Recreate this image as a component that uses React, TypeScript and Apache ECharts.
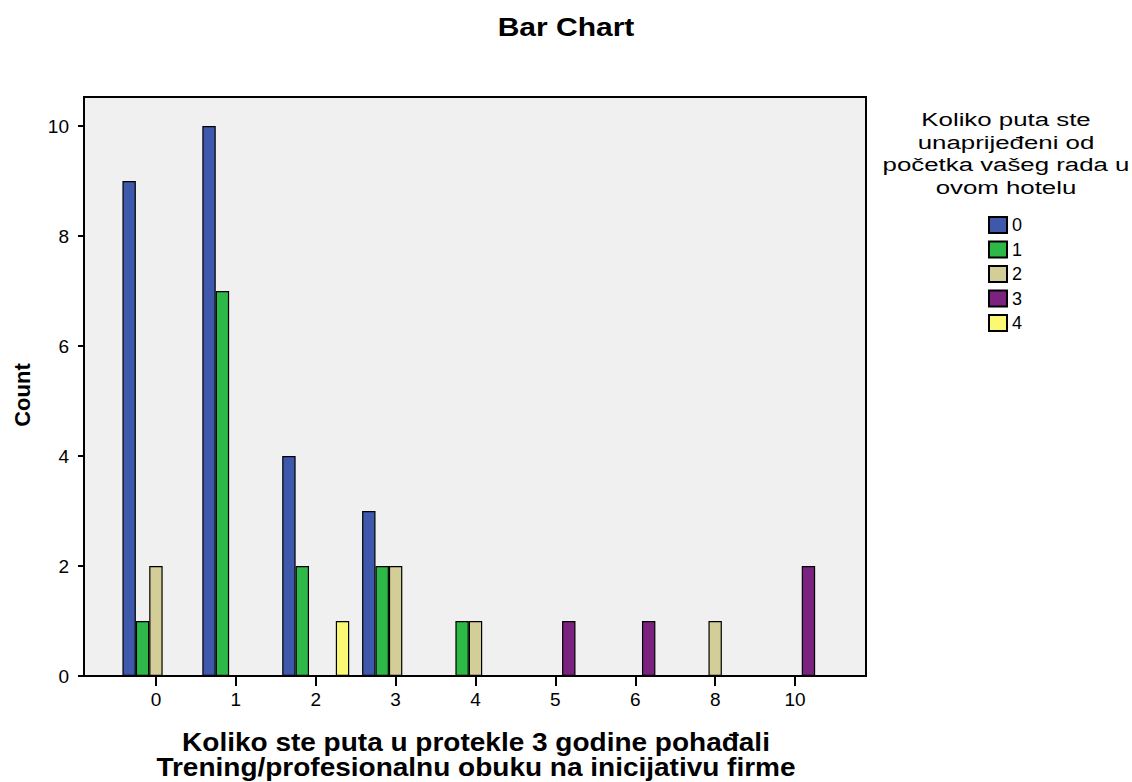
import React, { useEffect, useRef } from "react";
import * as echarts from "echarts";

const categories = ["0", "1", "2", "3", "4", "5", "6", "8", "10"];
const seriesNames = ["0", "1", "2", "3", "4"];
const s0 = [9, 10, 4, 3, null, null, null, null, null];
const s1 = [1, 7, 2, 2, 1, null, null, null, null];
const s2 = [2, null, null, 2, 1, null, null, 1, null];
const s3 = [null, null, null, null, null, 1, 1, null, 2];
const s4 = [null, null, 1, null, null, null, null, null, null];
const seriesValues = [s0, s1, s2, s3, s4];
const colors = ["#3E58AC", "#2EB848", "#D3CE97", "#7B2281", "#FBF873"];
const legendTitleLines = ["Koliko puta ste", "unaprijeđeni od", "početka vašeg rada u", "ovom hotelu"];
const xNameLines = ["Koliko ste puta u protekle 3 godine pohađali", "Trening/profesionalnu obuku na inicijativu firme"];
const FONT = "'Liberation Sans', Arial, sans-serif";

export default function App() {
  const ref = useRef<HTMLDivElement>(null);
  useEffect(() => {
    document.body.style.margin = "0";
    const chart = echarts.init(ref.current!, null, { renderer: "svg" });
    const graphics: any[] = [
      {
        type: "rect",
        z: -10,
        shape: { x: 84, y: 97, width: 782, height: 579 },
        style: { fill: "#f0f0f0", stroke: "#000", lineWidth: 2 },
        silent: true,
      },
      {
        type: "text",
        x: 566,
        y: 27,
        scaleX: 1.2,
        style: { text: "Bar Chart", x: 0, y: 0, textAlign: "center", textVerticalAlign: "middle", font: `bold 25px ${FONT}`, fill: "#000" },
      },
      {
        type: "text",
        x: 22,
        y: 395,
        rotation: Math.PI / 2,
        style: { text: "Count", x: 0, y: 0, textAlign: "center", textVerticalAlign: "middle", font: `bold 22px ${FONT}`, fill: "#000" },
      },
    ];
    xNameLines.forEach((t, i) => {
      graphics.push({
        type: "text",
        x: 476,
        y: 743 + i * 25,
        scaleX: 1.12,
        style: { text: t, x: 0, y: 0, textAlign: "center", textVerticalAlign: "middle", font: `bold 25px ${FONT}`, fill: "#000" },
      });
    });
    legendTitleLines.forEach((t, i) => {
      graphics.push({
        type: "text",
        x: 1006,
        y: 129 + i * 22.5,
        scaleX: 1.36,
        style: { text: t, x: 0, y: 0, textAlign: "center", textVerticalAlign: "bottom", font: `19px ${FONT}`, fill: "#000" },
      });
    });
    chart.setOption({
      animation: false,
      backgroundColor: "#fff",
      textStyle: { fontFamily: FONT },
      graphic: graphics,
      legend: {
        orient: "vertical",
        left: 983,
        top: 211,
        icon: "rect",
        itemWidth: 18,
        itemHeight: 16,
        itemGap: 6.5,
        data: seriesNames,
        textStyle: { fontSize: 18, color: "#000", fontFamily: FONT },
        selectedMode: false,
      },
      grid: { left: 116, top: 126, width: 719, height: 550, containLabel: false },
      xAxis: {
        type: "category",
        data: categories,
        axisLine: { show: false },
        axisTick: { show: true, alignWithLabel: true, length: 10, lineStyle: { color: "#000", width: 2 } },
        axisLabel: { fontSize: 19, color: "#000", margin: 14, fontFamily: FONT },
      },
      yAxis: {
        type: "value",
        min: 0,
        max: 10,
        interval: 2,
        offset: 32,
        splitLine: { show: false },
        axisLine: { show: true, lineStyle: { color: "#000", width: 2 } },
        axisTick: { show: true, length: 6, lineStyle: { color: "#000", width: 2 } },
        axisLabel: { fontSize: 19, color: "#000", margin: 15, fontFamily: FONT },
      },
      series: seriesNames.map((name, i) => ({
        name,
        type: "bar",
        data: seriesValues[i],
        barWidth: 13.4,
        barGap: "0%",
        itemStyle: { color: colors[i], borderColor: "#000", borderWidth: 1.2 },
      })),
    });
    return () => chart.dispose();
  }, []);
  return <div ref={ref} style={{ width: 1132, height: 782 }} />;
}
